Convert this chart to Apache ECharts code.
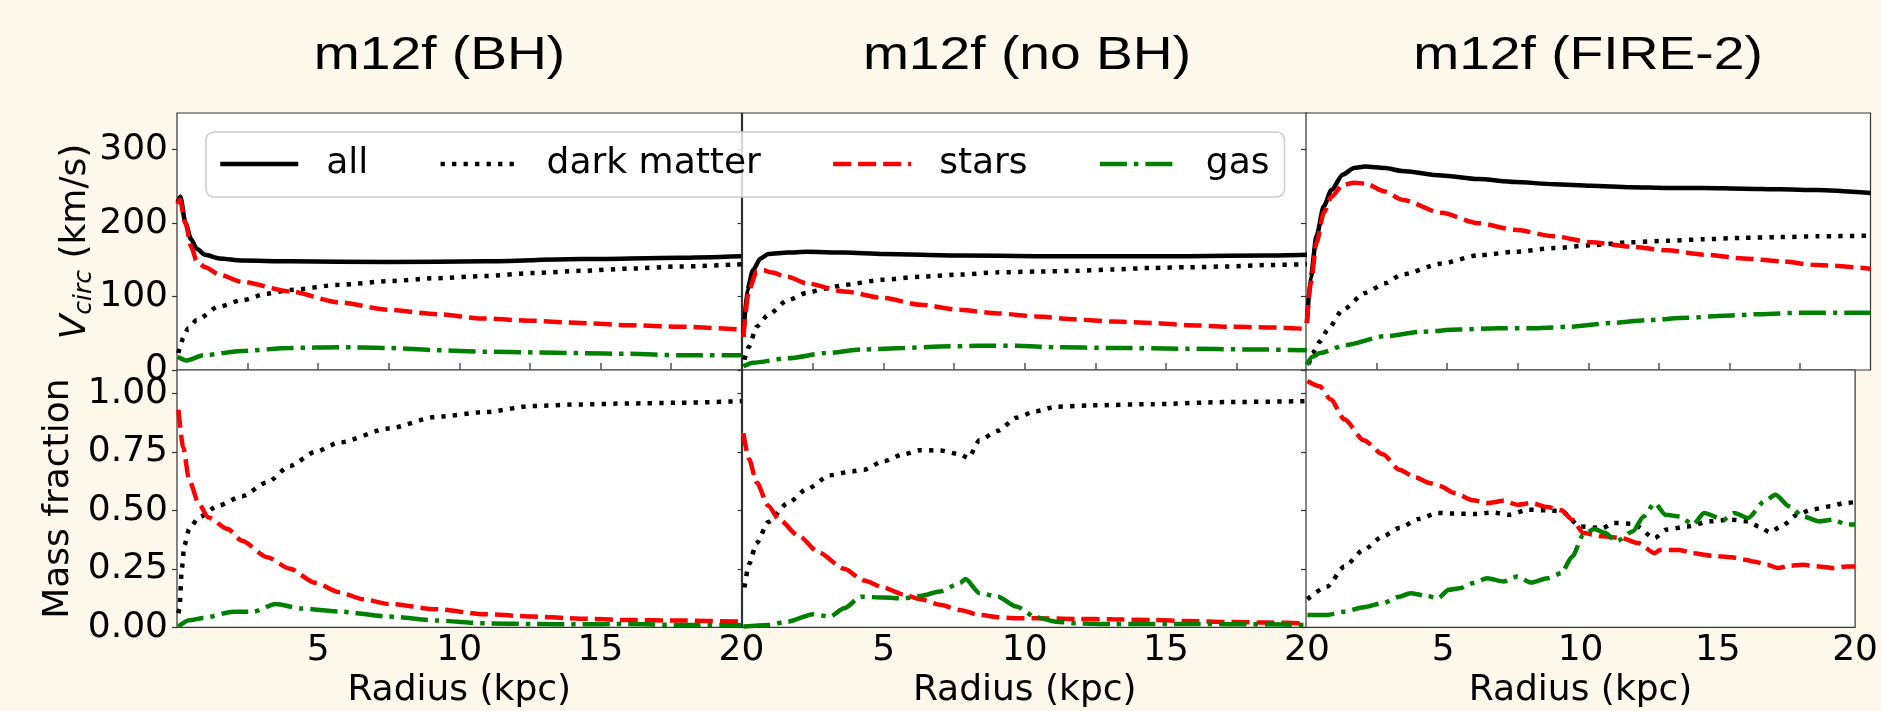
<!DOCTYPE html>
<html>
<head>
<meta charset="utf-8">
<title>m12f circular velocity and mass fraction</title>
<script src="https://cdn.jsdelivr.net/npm/echarts@6/dist/echarts.min.js"></script>
<style>
  html, body { margin: 0; padding: 0; background: #fdf8ec; }
  #main { width: 1881px; height: 711px; }
</style>
</head>
<body>
<div id="main"></div>
<script type="text/javascript">
// titles / names / ticks
var panelTitles = ['m12f (BH)', 'm12f (no BH)', 'm12f (FIRE-2)'];
var componentNames = ['all', 'dark matter', 'stars', 'gas'];
var radiusTicks = [2.5, 5, 7.5, 10, 12.5, 15, 17.5];
var radiusLabels = [5, 10, 15, 20];
var vcircTicks = [0, 100, 200, 300];
var fracTicks = [0, 0.25, 0.5, 0.75, 1.0];

// ---- m12f (BH) : V_circ [radius kpc, km/s]
var bhVcAll = [[0.02,228],[0.12,236],[0.3,200],[0.5,178],[0.7,165],[1.0,157],[1.5,152],[2.3,149],[4,148],[7.5,147],[10.9,148],[14.3,151],[17.8,153],[20,155]];
var bhVcDm = [[0.05,23],[0.1,30],[0.22,44],[0.4,57],[0.7,68],[1.46,86],[2.3,95],[3.2,104],[4,109],[5.75,116],[7.5,121],[9.2,125],[10.9,128],[12.6,132],[14.3,135],[16,138],[17.8,141],[20,144]];
var bhVcStars = [[0.02,226],[0.1,232],[0.3,200],[0.5,168],[0.7,148],[1.0,140],[1.5,130],[2.3,120],[4,107],[5.75,92],[7.5,82],[9.2,76],[10.9,70],[12.6,67],[14.3,64],[16,61],[17.8,59],[20,55]];
var bhVcGas = [[0.02,18],[0.34,13],[0.94,20],[2.3,26],[4,30],[5.75,31],[7.5,30],[9.2,27],[10.9,25],[12.6,24],[14.3,23],[16,22],[17.8,20],[20,20]];

// ---- m12f (BH) : mass fraction
var bhFracDm = [[0.05,0.06],[0.09,0.08],[0.17,0.25],[0.26,0.35],[0.43,0.42],[0.77,0.47],[1.46,0.52],[2.3,0.56],[3.2,0.62],[4,0.69],[4.9,0.75],[5.75,0.79],[7.5,0.85],[9.2,0.9],[10.9,0.92],[12.6,0.946],[14.3,0.953],[16,0.957],[17.8,0.96],[20,0.967]];
var bhFracStars = [[0.05,0.93],[0.22,0.77],[0.43,0.63],[0.77,0.53],[1.1,0.47],[1.8,0.42],[2.3,0.37],[3.2,0.30],[4,0.25],[4.9,0.19],[5.75,0.15],[6.6,0.12],[7.5,0.10],[9.2,0.077],[10.9,0.056],[12.6,0.046],[14.3,0.037],[16,0.031],[17.8,0.029],[20,0.024]];
var bhFracGas = [[0.05,0.003],[0.43,0.03],[0.94,0.04],[2,0.067],[2.7,0.067],[3.5,0.10],[4.4,0.08],[5.75,0.067],[7.5,0.046],[9.2,0.029],[10.9,0.017],[12.6,0.014],[14.3,0.013],[16,0.014],[17.8,0.01],[20,0.009]];

// ---- m12f (no BH) : V_circ
var nobhVcAll = [[0.03,45],[0.17,109],[0.37,136],[0.64,152],[0.91,158],[1.6,160],[2.27,161],[3.6,160],[5,158],[7.7,156],[10.4,155],[13.1,155],[15.8,155],[18.6,156],[20,157]];
var nobhVcDm = [[0.07,14],[0.23,32],[0.5,59],[0.91,75],[1.6,95],[2.27,105],[2.95,111],[3.6,116],[5,123],[6.3,127],[7.7,130],[9.05,133],[10.4,134],[11.8,135],[13.1,137],[14.5,139],[15.8,140],[17.2,141],[18.6,143],[20,144]];
var nobhVcStars = [[0.03,45],[0.23,109],[0.5,134],[0.75,136],[1.0,133],[1.6,127],[2.27,118],[3.6,107],[5,98],[6.3,89],[7.7,82],[9.05,77],[10.4,73],[11.8,69],[13.1,66],[14.5,64],[15.8,61],[17.2,59],[18.6,58],[20,56]];
var nobhVcGas = [[0.03,5],[0.37,10],[1.6,16],[2.95,23],[4.3,28],[5.7,30],[7,32],[8.4,33],[9.7,33],[11.1,31],[13.1,30],[15.8,29],[17.9,28],[20,27]];

// ---- m12f (no BH) : mass fraction
var nobhFracDm = [[0.07,0.17],[0.23,0.27],[0.5,0.36],[0.91,0.45],[1.6,0.53],[2.27,0.59],[3.1,0.65],[3.9,0.667],[4.3,0.674],[5,0.71],[5.7,0.74],[6.3,0.757],[7,0.756],[7.7,0.74],[8,0.724],[8.4,0.8],[9.05,0.84],[9.7,0.896],[10.4,0.924],[11.1,0.943],[12.4,0.949],[14.5,0.954],[17.2,0.963],[20,0.967]];
var nobhFracStars = [[0.03,0.83],[0.23,0.72],[0.5,0.62],[0.91,0.52],[1.3,0.46],[2,0.39],[2.7,0.32],[3.6,0.25],[4.3,0.2],[5,0.17],[5.7,0.14],[6.3,0.12],[7,0.096],[7.7,0.074],[8.4,0.053],[9.05,0.043],[9.7,0.039],[10.4,0.039],[11.8,0.036],[13.1,0.034],[14.5,0.031],[15.8,0.027],[17.2,0.023],[18.6,0.02],[20,0.017]];
var nobhFracGas = [[0.03,0.003],[0.91,0.01],[1.6,0.024],[2.5,0.056],[3.1,0.046],[3.6,0.081],[4.2,0.131],[5,0.127],[5.7,0.124],[6.3,0.134],[7,0.153],[7.7,0.189],[7.9,0.206],[8.4,0.146],[9.05,0.131],[9.7,0.089],[10.4,0.043],[11.1,0.024],[11.8,0.017],[13.1,0.014],[15.8,0.014],[18.6,0.013],[20,0.01]];

// ---- m12f (FIRE-2) : V_circ
var fireVcAll = [[0.03,64],[0.17,127],[0.37,182],[0.63,223],[0.9,245],[1.3,266],[1.7,275],[2.1,277],[2.8,275],[3.4,271],[4.8,265],[6.1,260],[7.4,256],[8.8,253],[10.1,251],[11.5,249],[12.8,248],[14.1,248],[15.5,247],[16.8,246],[18.1,245],[20,241]];
var fireVcDm = [[0.1,8],[0.23,23],[0.5,39],[0.77,55],[1.3,82],[2.1,105],[2.8,118],[3.4,130],[4.8,145],[6.1,156],[7.4,161],[8.8,166],[10.1,170],[11.5,174],[12.8,176],[14.1,178],[15.5,180],[16.8,181],[18.1,182],[20,183]];
var fireVcStars = [[0.03,64],[0.17,118],[0.37,173],[0.63,214],[0.9,236],[1.3,252],[1.7,255],[2.1,254],[2.8,243],[3.4,232],[4.8,214],[6.1,200],[7.4,191],[8.8,182],[10.1,174],[11.5,168],[12.8,163],[14.1,157],[15.5,152],[16.8,148],[18.1,143],[20,138]];
var fireVcGas = [[0.03,7],[0.23,18],[0.5,23],[1.4,34],[2.8,46],[4.1,52],[5.4,55],[6.8,57],[8.1,57],[9.4,59],[10.8,64],[12.1,68],[13.5,71],[14.8,74],[16.1,76],[17.5,78],[18.8,78],[20,78]];

// ---- m12f (FIRE-2) : mass fraction
var fireFracDm = [[0.05,0.12],[0.77,0.174],[1.4,0.26],[2.1,0.331],[2.8,0.389],[3.4,0.424],[4.1,0.463],[4.8,0.489],[5.4,0.486],[6.1,0.484],[6.8,0.491],[7.4,0.481],[8.1,0.503],[8.8,0.5],[9.3,0.496],[10,0.431],[10.8,0.424],[11.2,0.446],[11.9,0.443],[12.7,0.381],[13.1,0.417],[13.9,0.431],[14.7,0.453],[15.5,0.46],[16.1,0.453],[16.5,0.431],[16.9,0.406],[17.3,0.431],[17.9,0.481],[18.4,0.503],[19.1,0.517],[19.6,0.531],[20,0.535]];
var fireFracStars = [[0.05,1.053],[0.5,1.03],[0.9,0.974],[1.4,0.889],[2.1,0.80],[2.8,0.74],[3.4,0.674],[4,0.64],[4.5,0.617],[4.9,0.603],[5.4,0.574],[6.1,0.543],[6.6,0.531],[7.2,0.541],[7.7,0.524],[8.2,0.531],[8.8,0.514],[9.3,0.5],[9.7,0.46],[10.1,0.403],[10.8,0.389],[11.5,0.381],[12.1,0.36],[12.7,0.317],[12.9,0.331],[13.6,0.331],[14.1,0.317],[14.8,0.306],[15.5,0.299],[16,0.289],[16.3,0.281],[16.8,0.267],[17.2,0.253],[17.6,0.263],[18.1,0.267],[18.7,0.26],[19.2,0.253],[19.7,0.26],[20,0.26]];
var fireFracGas = [[0.05,0.053],[0.77,0.053],[1.4,0.067],[2.1,0.086],[2.8,0.103],[3.4,0.131],[3.8,0.146],[4.4,0.134],[4.8,0.124],[5.2,0.16],[5.6,0.167],[6.1,0.189],[6.6,0.21],[7.2,0.196],[7.7,0.217],[8.2,0.191],[8.8,0.21],[9.3,0.231],[9.7,0.303],[10.1,0.396],[10.5,0.42],[10.9,0.403],[11.3,0.367],[11.9,0.41],[12.3,0.474],[12.7,0.531],[13.1,0.481],[13.6,0.474],[14.1,0.439],[14.5,0.489],[15.2,0.46],[15.6,0.489],[16.1,0.467],[16.7,0.539],[17.1,0.567],[17.6,0.517],[18.1,0.474],[18.7,0.453],[19.2,0.46],[19.7,0.439],[20,0.44]];

// panel -> [all, dark matter, stars, gas]
var vcSets = [
  [bhVcAll, bhVcDm, bhVcStars, bhVcGas],
  [nobhVcAll, nobhVcDm, nobhVcStars, nobhVcGas],
  [fireVcAll, fireVcDm, fireVcStars, fireVcGas]
];
var fracSets = [
  [null, bhFracDm, bhFracStars, bhFracGas],
  [null, nobhFracDm, nobhFracStars, nobhFracGas],
  [null, fireFracDm, fireFracStars, fireFracGas]
];

// solid / dotted / dashed / dash-dot, like the matplotlib defaults
var lineLooks = [
  { color: '#000000', type: 'solid', width: 4.5 },
  { color: '#000000', type: [4.3, 7.2], width: 4.5 },
  { color: '#ff0000', type: [18, 7], width: 4.5 },
  { color: '#008000', type: [27, 7, 4.5, 7], width: 4.5 }
];

var FONT = 'DejaVu Sans';
var FS = 36;
var panelLeft = [177, 742.5, 1306];
var panelW = 564.5;

var myChart = echarts.init(document.getElementById('main'));

var grids = [], xAxes = [], yAxes = [], series = [];
for (var row = 0; row < 2; row++) {
  for (var p = 0; p < 3; p++) {
    var gi = row * 3 + p;
    grids.push({
      left: panelLeft[p], width: panelW,
      top: row === 0 ? 113 : 370, height: row === 0 ? 257 : 257.3,
      show: true, backgroundColor: '#ffffff', borderColor: '#333333', borderWidth: 1.2
    });
    xAxes.push({
      type: 'value', gridIndex: gi, min: 0, max: 20,
      axisLine: { show: false }, splitLine: { show: false },
      axisTick: row === 0
        ? { show: true, inside: true, length: 7, customValues: radiusTicks, lineStyle: { color: '#555', width: 1.5 } }
        : { show: false },
      axisLabel: row === 0
        ? { show: false }
        : { show: true, customValues: radiusLabels, fontFamily: FONT, fontSize: FS, color: '#000', margin: 5 },
      name: row === 1 ? 'Radius (kpc)' : '',
      nameLocation: 'middle', nameGap: 45,
      nameTextStyle: { fontFamily: FONT, fontSize: FS, color: '#000' }
    });
    var y = {
      type: 'value', gridIndex: gi,
      min: 0, max: row === 0 ? 350 : 1.1,
      axisLine: { show: false }, splitLine: { show: false },
      axisTick: { show: true, inside: false, length: 5, customValues: row === 0 ? vcircTicks : fracTicks, lineStyle: { color: '#333', width: 1.2 } },
      axisLabel: {
        show: p === 0, customValues: row === 0 ? vcircTicks : fracTicks,
        fontFamily: FONT, fontSize: FS, color: '#000', margin: 9,
        formatter: row === 0 ? '{value}' : function (v) { return v.toFixed(2); }
      },
      nameMoveOverlap: false
    };
    if (p === 0 && row === 0) {
      y.name = '{v|V}{s|circ}{t| (km/s)}';
      y.nameLocation = 'middle';
      y.nameGap = 80;
      y.nameTextStyle = {
        fontFamily: FONT, fontSize: FS, color: '#000',
        rich: {
          v: { fontFamily: FONT, fontSize: FS, fontStyle: 'italic', color: '#000' },
          s: { fontFamily: FONT, fontSize: 25, fontStyle: 'italic', color: '#000', padding: [17, 0, 0, 0] },
          t: { fontFamily: FONT, fontSize: FS, color: '#000' }
        }
      };
    }
    if (p === 0 && row === 1) {
      y.name = 'Mass fraction';
      y.nameLocation = 'middle';
      y.nameGap = 100;
      y.nameTextStyle = { fontFamily: FONT, fontSize: FS, color: '#000' };
    }
    yAxes.push(y);

    var sets = row === 0 ? vcSets[p] : fracSets[p];
    for (var c = 0; c < 4; c++) {
      if (!sets[c]) continue;
      series.push({
        name: componentNames[c], type: 'line',
        xAxisIndex: gi, yAxisIndex: gi,
        data: sets[c],
        symbol: 'none', showSymbol: false,
        smooth: 0.25, smoothMonotone: 'x',
        lineStyle: { color: lineLooks[c].color, width: lineLooks[c].width, type: lineLooks[c].type, cap: 'butt' },
        itemStyle: { color: lineLooks[c].color },
        emphasis: { disabled: true },
        silent: true
      });
    }
  }
}

var titleText = panelTitles.map(function (t, i) {
  return {
    type: 'text', x: [439.5, 1027, 1588][i], y: 56, scaleX: 1.2,
    style: { text: t, fontFamily: 'Liberation Sans', fontSize: 46, fill: '#000', textAlign: 'center', textVerticalAlign: 'middle' }
  };
});

var option = {
  backgroundColor: '#fdf8ec',
  animation: false,
  textStyle: { fontFamily: FONT },
  grid: grids,
  xAxis: xAxes,
  yAxis: yAxes,
  legend: {
    data: componentNames,
    left: 206, top: 132,
    orient: 'horizontal',
    padding: [13, 15, 14, 12],
    itemGap: 70, itemWidth: 78, itemHeight: 38,
    backgroundColor: 'rgba(255,255,255,0.8)',
    borderColor: '#cccccc', borderWidth: 1.5, borderRadius: 8,
    itemStyle: { opacity: 0 },
    lineStyle: { width: 4.5 },
    textStyle: { fontFamily: FONT, fontSize: FS, color: '#000', lineHeight: 38, padding: [0, 0, 0, 23] },
    selectedMode: false
  },
  graphic: titleText,
  series: series
};

myChart.setOption(option);
</script>
</body>
</html>
